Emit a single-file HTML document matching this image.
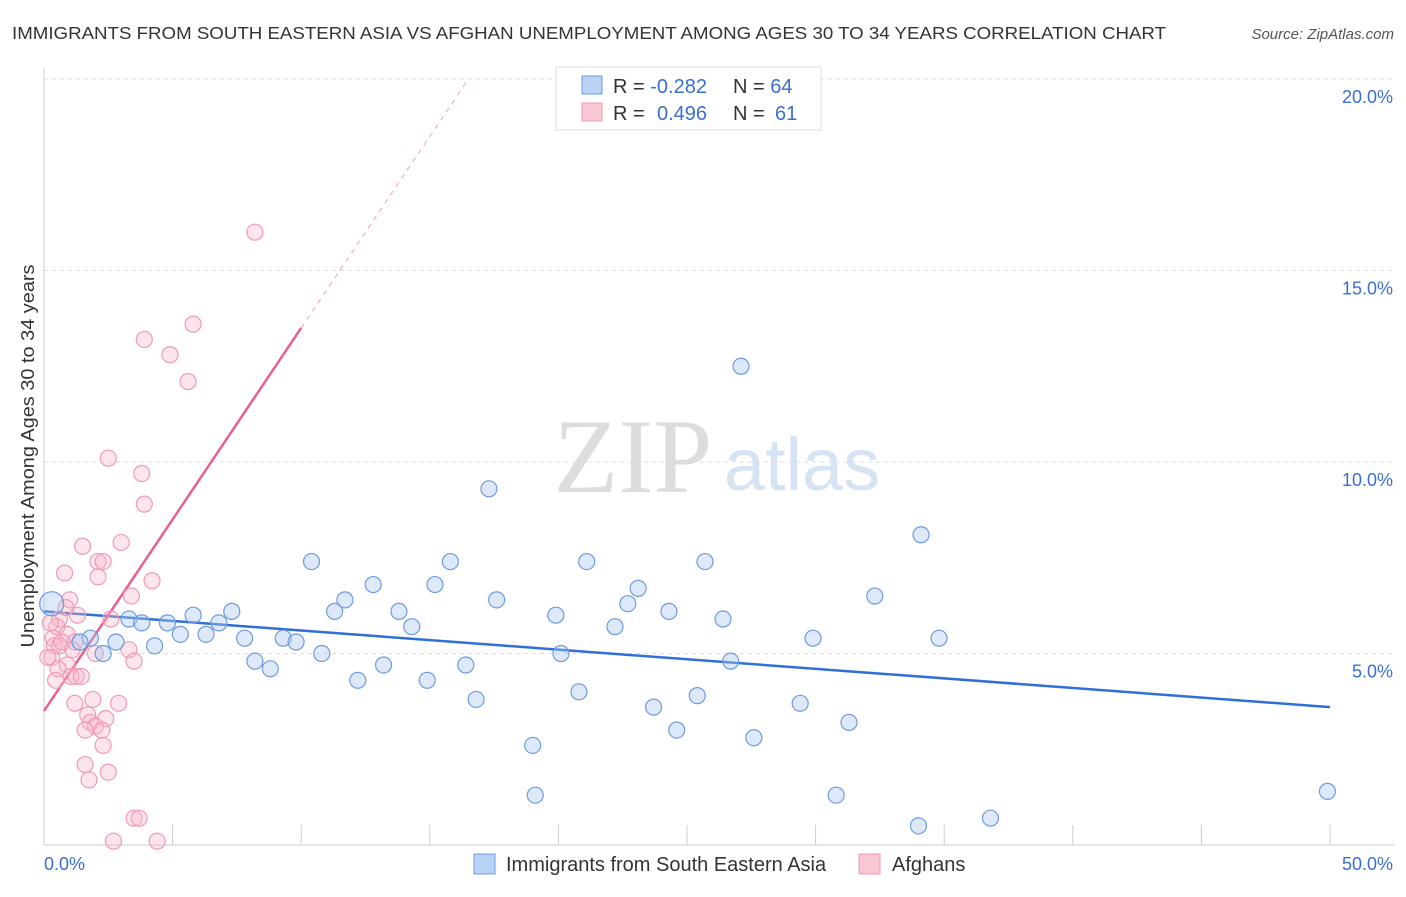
<!DOCTYPE html>
<html><head><meta charset="utf-8"><style>
body{margin:0;background:#fff;width:1406px;height:892px;overflow:hidden;font-family:"Liberation Sans",sans-serif}
</style></head><body>
<svg id="chart" width="1406" height="892" xmlns="http://www.w3.org/2000/svg">
<text x="12" y="39" font-size="17.5" fill="#333" textLength="1154" lengthAdjust="spacingAndGlyphs">IMMIGRANTS FROM SOUTH EASTERN ASIA VS AFGHAN UNEMPLOYMENT AMONG AGES 30 TO 34 YEARS CORRELATION CHART</text>
<text x="1394" y="39" font-size="15" fill="#555" font-style="italic" text-anchor="end">Source: ZipAtlas.com</text>
<g id="grid"></g>
<g>
<text x="633" y="492" font-size="106" font-family="Liberation Serif,serif" fill="#ddd" text-anchor="middle">ZIP</text>
<text x="802" y="490" font-size="74" fill="#d6e3f3" text-anchor="middle">atlas</text></g>
<g id="trend"></g>
<g id="pts"></g>
<text transform="translate(34,456) rotate(-90)" font-size="18" fill="#333" text-anchor="middle" textLength="383" lengthAdjust="spacingAndGlyphs">Unemployment Among Ages 30 to 34 years</text>
<g>
<rect x="556" y="67" width="265" height="63" fill="#fff" stroke="#ddd"/>
<rect x="582" y="76" width="20" height="18" fill="#b9d2f5" stroke="#6d9be0"/>
<rect x="582" y="103" width="20" height="18" fill="#f9c6d4" stroke="#ee98b2"/>
<text x="613" y="93" font-size="20" fill="#333">R = <tspan fill="#3a6fd0">-0.282</tspan></text>
<text x="733" y="93" font-size="20" fill="#333">N = <tspan fill="#3a6fd0">64</tspan></text>
<text x="613" y="120" font-size="20" fill="#333">R = <tspan fill="#3a6fd0" x="657">0.496</tspan></text>
<text x="733" y="120" font-size="20" fill="#333">N = <tspan fill="#3a6fd0" x="775">61</tspan></text>
</g>
<g>
<rect x="474" y="854" width="21" height="20" fill="#b9d2f5" stroke="#6d9be0"/>
<text x="506" y="871" font-size="20" fill="#333">Immigrants from South Eastern Asia</text>
<rect x="859" y="854" width="21" height="20" fill="#f9c6d4" stroke="#ee98b2"/>
<text x="892" y="871" font-size="20" fill="#333">Afghans</text>
</g>
</svg>
<script>
const xTicks=[0,5,10,15,20,25,30,35,40,45,50];
const yTicks=[5,10,15,20];
const blueX=[0.3,1.8,1.4,2.3,2.8,3.3,3.8,4.3,4.8,5.3,5.8,6.3,6.8,7.3,7.8,8.2,8.8,9.3,9.8,10.4,10.8,11.3,11.7,12.2,12.8,13.2,13.8,14.3,14.9,15.2,15.8,16.4,16.8,17.3,17.6,19.0,19.1,19.9,20.1,20.8,21.1,22.2,22.7,23.1,23.7,24.3,24.6,25.4,25.7,26.4,26.7,27.1,27.6,29.4,29.9,30.8,31.3,32.3,34.0,34.1,34.8,36.8,49.9];
const blueY=[6.3,5.4,5.3,5.0,5.3,5.9,5.8,5.2,5.8,5.5,6.0,5.5,5.8,6.1,5.4,4.8,4.6,5.4,5.3,7.4,5.0,6.1,6.4,4.3,6.8,4.7,6.1,5.7,4.3,6.8,7.4,4.7,3.8,9.3,6.4,2.6,1.3,6.0,5.0,4.0,7.4,5.7,6.3,6.7,3.6,6.1,3.0,3.9,7.4,5.9,4.8,12.5,2.8,3.7,5.4,1.3,3.2,6.5,0.5,8.1,5.4,0.7,1.4];
const pinkX=[8.2,5.8,3.9,4.9,5.6,2.5,3.8,3.9,3.0,1.5,2.1,2.3,0.8,2.1,4.2,3.4,1.0,1.3,2.6,0.6,0.5,0.9,0.35,1.2,0.4,3.3,0.6,2.0,0.3,3.5,0.9,0.55,1.05,1.25,1.45,0.45,1.9,1.2,2.9,1.7,2.4,1.8,2.0,1.6,2.25,2.3,1.6,2.5,1.75,3.5,3.7,2.7,4.4,0.25,0.15,0.7,0.85,1.1];
const pinkY=[16.0,13.6,13.2,12.8,12.1,10.1,9.7,8.9,7.9,7.8,7.4,7.4,7.1,7.0,6.9,6.5,6.4,6.0,5.9,5.9,5.7,5.5,5.4,5.3,5.2,5.1,5.2,5.0,4.9,4.8,4.7,4.6,4.4,4.4,4.4,4.3,3.8,3.7,3.7,3.4,3.3,3.2,3.1,3.0,3.0,2.6,2.1,1.9,1.7,0.7,0.7,0.1,0.1,5.8,4.9,5.3,6.2,5.1];
const blueLine=[0,6.1,50,3.6];
const pinkLine=[0,3.5,10,13.5,16.4,19.9];
const X=v=>44+v*25.72, Y=v=>845-v*38.3;
const NS="http://www.w3.org/2000/svg";
function mk(p,t,a){const e=document.createElementNS(NS,t);for(const k in a)e.setAttribute(k,a[k]);p.appendChild(e);return e;}
const g=document.getElementById('grid');
mk(g,'line',{x1:44,y1:68,x2:44,y2:845,stroke:'#ccc'});
mk(g,'line',{x1:44,y1:845,x2:1394,y2:845,stroke:'#ccc'});
yTicks.forEach(v=>{mk(g,'line',{x1:44,y1:Y(v),x2:1394,y2:Y(v),stroke:'#ddd','stroke-dasharray':'4,4'});
const t=mk(g,'text',{x:1393,y:Y(v)+24,'font-size':18,fill:'#3a6fd0','text-anchor':'end'});t.textContent=v.toFixed(1)+'%';

});
xTicks.forEach(v=>{const l=mk(g,'line',{x1:X(v),y1:825,x2:X(v),y2:845,stroke:'#ccc'});

});
[[0,'0.0%','start',44],[50,'50.0%','end',1393]].forEach(a=>{const t=mk(g,'text',{x:a[3],y:870,'font-size':18,fill:'#3a6fd0','text-anchor':a[2]});t.textContent=a[1];

});
const tr=document.getElementById('trend');
const bl=mk(tr,'line',{x1:X(blueLine[0]),y1:Y(blueLine[1]),x2:X(blueLine[2]),y2:Y(blueLine[3]),stroke:'#2f6fd6','stroke-width':2.5});


const pl=mk(tr,'line',{x1:X(pinkLine[0]),y1:Y(pinkLine[1]),x2:X(pinkLine[2]),y2:Y(pinkLine[3]),stroke:'#e8608c','stroke-width':2.5});


const pd=mk(tr,'line',{x1:X(pinkLine[2]),y1:Y(pinkLine[3]),x2:X(pinkLine[4]),y2:Y(pinkLine[5]),stroke:'#f0a0b8','stroke-width':1,'stroke-dasharray':'5,5'});


const P=document.getElementById('pts');
pinkX.forEach((x,i)=>{const c=mk(P,'circle',{cx:X(x),cy:Y(pinkY[i]),r:8,fill:'rgba(248,180,200,0.35)',stroke:'#f09ab4','stroke-width':1.2});

});
blueX.forEach((x,i)=>{const c=mk(P,'circle',{cx:X(x),cy:Y(blueY[i]),r:i==0?12:8,fill:'rgba(170,200,240,0.4)',stroke:'#6d9be0','stroke-width':1.2});

});
</script>
</body></html>
